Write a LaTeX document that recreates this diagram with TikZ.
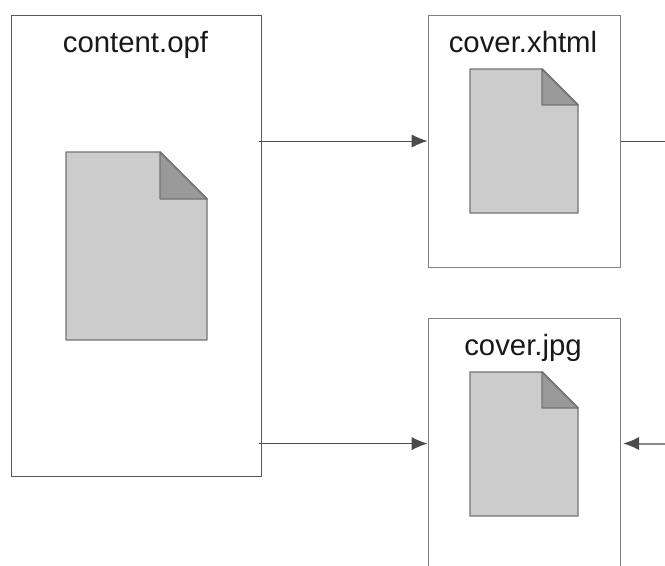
\documentclass[tikz,border=0pt]{standalone}
\usepackage{fontspec}
\setmainfont{Liberation Sans}
\usetikzlibrary{arrows.meta}
\tikzset{
 box/.style={draw=black!65,line width=0.75pt,fill=white,inner sep=0pt,anchor=north west},
 lightbox/.style={box,draw=black!50},
 sheet/.style={draw=black!55,line width=1.1pt,fill=black!20,line join=round},
 fold/.style={draw=black!55,line width=1.1pt,fill=black!40,line join=round},
 lab/.style={inner sep=0pt,anchor=base,text=black!90,font=\fontsize{22pt}{24pt}\selectfont},
 arrow/.style={draw=black!70,line width=0.75pt,-{Latex[length=12pt,width=10pt,black!70]}}
}
\newcommand{\docicon}[5]{% x0 ytop x1 ybot foldsize
 \draw[sheet] (#1,-#2) -- (#3-#5,-#2) -- (#3,-#2-#5) -- (#3,-#4) -- (#1,-#4) -- cycle;
 \draw[fold] (#3-#5,-#2) -- (#3,-#2-#5) -- (#3-#5,-#2-#5) -- cycle;
}
\begin{document}
\begin{tikzpicture}[x=0.75pt,y=0.75pt]
\useasboundingbox (0,0) rectangle (665,-565);
\fill[white] (0,0) rectangle (665,-565);
\begin{scope}
\clip (0,0) rectangle (665,-565);
\node[box,minimum width=187.5pt,minimum height=345.5pt] (opf) at (11,-15) {};
\node[lightbox,minimum width=144pt,minimum height=189pt] (xhtml) at (427.5,-15) {};
\node[lightbox,minimum width=144pt,minimum height=189pt] (jpg) at (427.5,-318) {};
\docicon{66}{152}{207}{340}{47}
\docicon{470}{69}{578}{213}{36}
\docicon{470}{372}{578}{516}{36}
\node[lab] (t1) at (135.5,-52) {content.opf};
\node[lab] (t2) at (523,-52) {cover.xhtml};
\node[lab] (t3) at (523,-355) {cover.jpg};
\coordinate (a1) at (259,-141);
\coordinate (a2) at (259,-443.6);
\coordinate (r1) at (665,-141);
\coordinate (r2) at (665,-443.5);
\draw[arrow] (a1) -- (xhtml.west |- a1);
\draw[arrow] (a2) -- (jpg.west |- a2);
\draw[draw=black!70,line width=0.75pt] (xhtml.east |- r1) -- (r1);
\draw[draw=black!45,line width=1.5pt,-{Latex[length=12pt,width=10pt,black!70]}] (r2) -- (623,-443.5);
\end{scope}
\end{tikzpicture}
\end{document}
